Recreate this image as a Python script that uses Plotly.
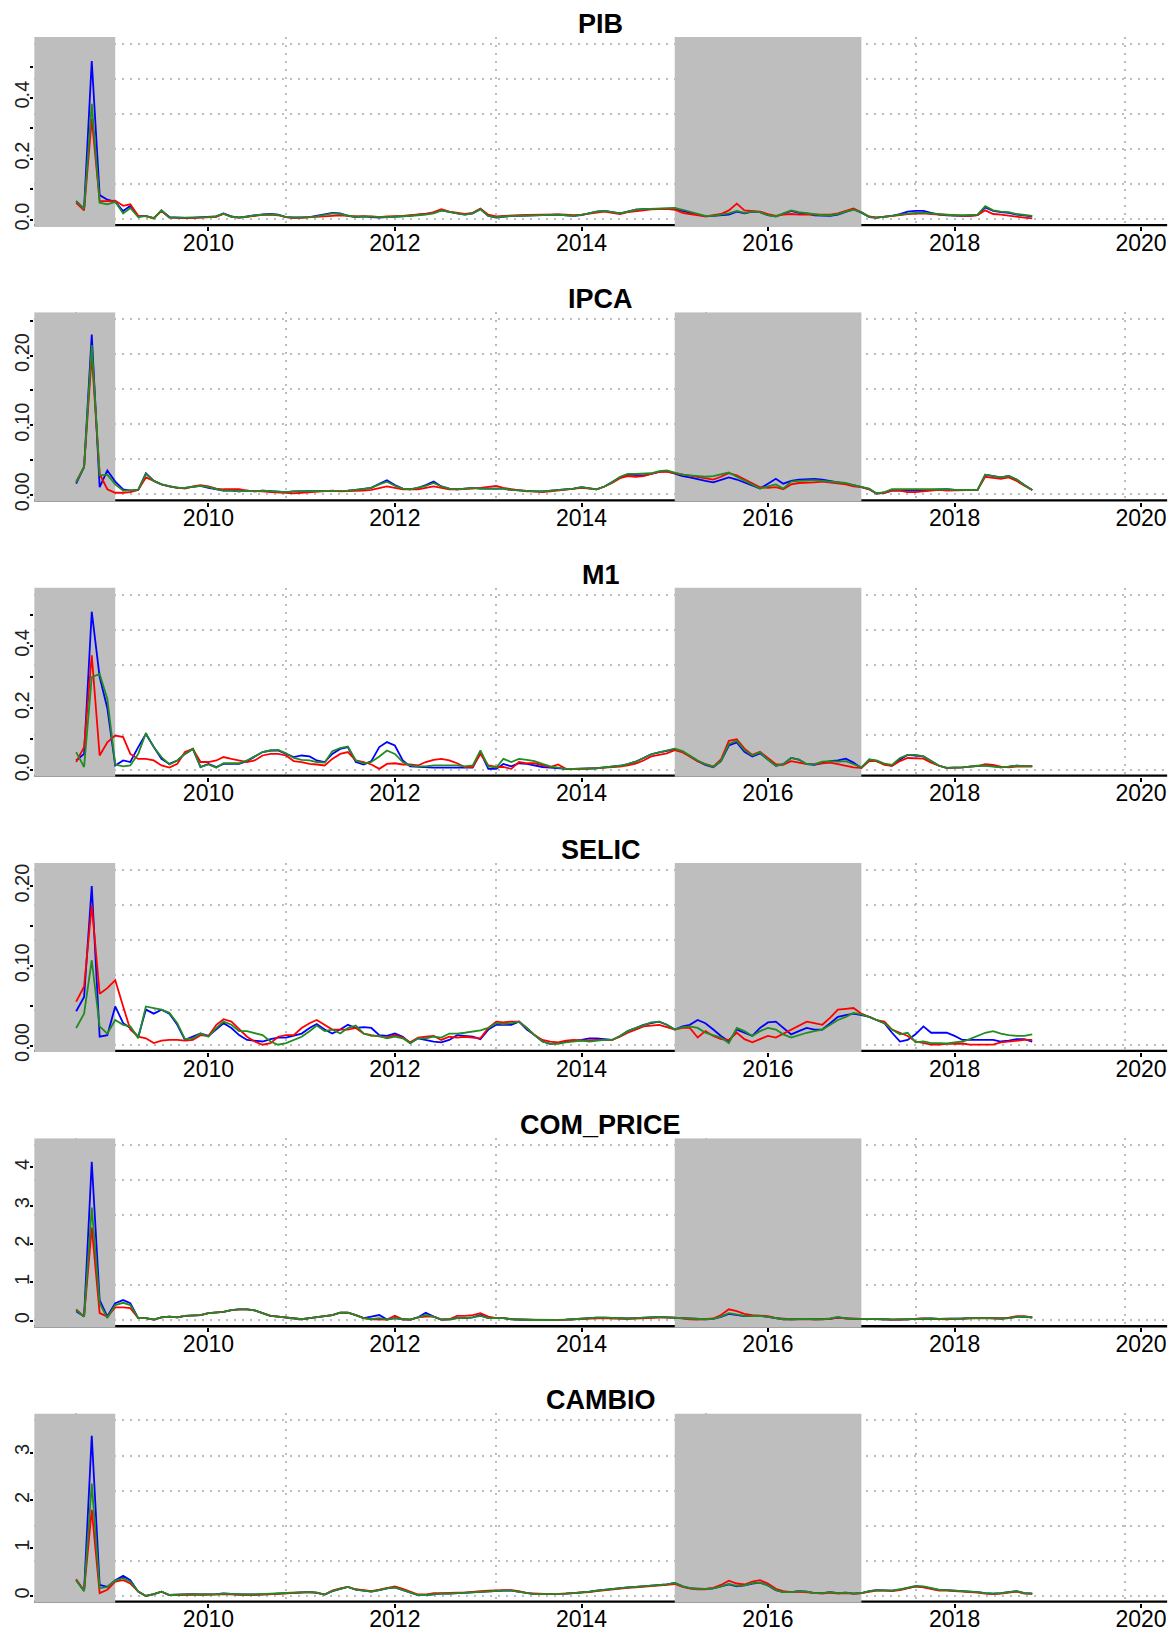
import plotly.graph_objects as go
import pandas as pd

# ---------------- data (monthly, Aug 2008 .. Nov 2018) ----------------
months = pd.date_range("2008-08-01", periods=124, freq="MS")
series_end_nominal = pd.Timestamp("2019-11-01")   # time index used for the axis scale

titles = ["PIB", "IPCA", "M1", "SELIC", "COM_PRICE", "CAMBIO"]

pib_blue = [.06, .035, .52, .08, .065, .058, .028, .045, .01, .012, .004, .03,
            .008, .006, .005, .006, .007, .008, .01, .02, .01, .006, .01, .014,
            .017, .018, .016, .008, .006, .006, .008, .012, .018, .022, .02, .012,
            .008, .01, .008, .006, .008, .009, .01, .012, .016, .018, .022, .03,
            .024, .02, .016, .02, .034, .012, .006, .01, .012, .012, .013, .014,
            .015, .015, .016, .014, .012, .014, .02, .026, .028, .024, .02, .026,
            .032, .034, .035, .035, .036, .036, .028, .022, .016, .01, .012, .014,
            .016, .026, .02, .026, .024, .014, .01, .018, .028, .022, .02, .014,
            .012, .012, .016, .026, .034, .022, .008, .006, .008, .012, .018, .026,
            .028, .028, .022, .016, .014, .012, .012, .012, .014, .04, .028, .024,
            .022, .016, .012, .01]
pib_red = [.055, .03, .33, .06, .06, .062, .045, .05, .012, .01, .005, .028,
           .006, .005, .004, .005, .006, .007, .009, .018, .009, .006, .008, .012,
           .015, .016, .014, .008, .005, .006, .007, .007, .01, .012, .014, .012,
           .01, .01, .01, .008, .01, .01, .012, .014, .016, .018, .024, .034,
           .026, .022, .018, .022, .036, .016, .01, .012, .014, .014, .015, .016,
           .016, .016, .017, .016, .014, .016, .02, .024, .026, .022, .018, .024,
           .028, .03, .033, .034, .035, .032, .022, .018, .014, .01, .014, .018,
           .03, .052, .03, .028, .026, .018, .012, .016, .018, .016, .016, .016,
           .016, .016, .02, .028, .036, .024, .01, .006, .008, .01, .014, .018,
           .02, .02, .018, .016, .014, .012, .012, .012, .014, .03, .018, .016,
           .012, .01, .006, .004]
pib_green = [.06, .035, .38, .055, .05, .058, .02, .038, .008, .012, .003, .03,
             .006, .006, .005, .006, .007, .008, .01, .02, .009, .007, .009, .014,
             .016, .017, .015, .008, .006, .006, .008, .01, .016, .02, .018, .012,
             .008, .01, .009, .007, .008, .009, .01, .012, .014, .016, .02, .03,
             .024, .02, .016, .02, .034, .012, .007, .01, .012, .012, .013, .014,
             .015, .015, .016, .014, .012, .015, .02, .026, .028, .024, .02, .026,
             .032, .034, .035, .035, .036, .038, .032, .026, .018, .012, .012, .016,
             .02, .028, .022, .026, .024, .014, .01, .02, .03, .024, .02, .016,
             .014, .014, .018, .026, .032, .024, .008, .006, .008, .012, .016, .02,
             .022, .022, .02, .016, .015, .014, .014, .014, .016, .044, .03, .026,
             .024, .018, .014, .012]

ipca_blue = [.016, .04, .23, .011, .035, .019, .008, .006, .007, .031, .02, .015,
             .012, .01, .01, .012, .013, .01, .008, .006, .006, .005, .006, .005,
             .006, .005, .004, .004, .005, .005, .006, .006, .005, .006, .005, .006,
             .007, .008, .01, .016, .021, .014, .009, .008, .01, .014, .019, .012,
             .009, .008, .009, .01, .009, .009, .01, .009, .007, .006, .005, .005,
             .005, .006, .006, .007, .009, .011, .009, .008, .012, .018, .025, .029,
             .028, .028, .03, .033, .034, .03, .027, .025, .022, .02, .018, .022,
             .025, .022, .018, .014, .009, .016, .023, .016, .02, .022, .023, .023,
             .022, .02, .018, .017, .014, .011, .008, .002, .003, .006, .006, .005,
             .005, .006, .007, .008, .008, .007, .007, .007, .007, .029, .027, .025,
             .027, .022, .014, .007]
ipca_red = [.019, .04, .2, .03, .008, .003, .003, .004, .007, .025, .02, .015,
            .012, .01, .009, .012, .014, .012, .009, .008, .008, .008, .006, .006,
            .005, .004, .003, .002, .002, .003, .004, .005, .005, .006, .005, .005,
            .006, .006, .007, .01, .012, .01, .008, .008, .008, .01, .012, .01,
            .008, .008, .008, .009, .01, .011, .013, .01, .008, .006, .005, .005,
            .004, .005, .006, .007, .008, .01, .009, .008, .012, .017, .024, .027,
            .026, .027, .03, .033, .033, .031, .029, .027, .026, .024, .022, .026,
            .031, .028, .022, .017, .011, .01, .011, .008, .015, .017, .017, .018,
            .019, .018, .017, .015, .012, .011, .008, .002, .003, .006, .006, .004,
            .004, .005, .006, .007, .006, .006, .007, .007, .007, .026, .024, .023,
            .025, .02, .013, .007]
ipca_green = [.018, .04, .215, .028, .029, .015, .006, .006, .007, .03, .02, .015,
              .012, .01, .01, .012, .013, .011, .008, .006, .006, .005, .006, .005,
              .006, .005, .004, .004, .005, .005, .006, .006, .005, .006, .005, .006,
              .007, .008, .01, .015, .019, .013, .009, .008, .01, .013, .017, .012,
              .009, .008, .009, .01, .009, .009, .01, .009, .007, .006, .005, .005,
              .005, .006, .006, .007, .009, .011, .009, .008, .012, .018, .026, .03,
              .03, .03, .031, .034, .035, .032, .029, .028, .027, .026, .027, .029,
              .032, .026, .02, .015, .009, .012, .015, .009, .019, .02, .021, .021,
              .02, .019, .018, .017, .014, .011, .009, .002, .004, .008, .008, .008,
              .008, .009, .009, .009, .008, .007, .007, .007, .007, .029, .027, .025,
              .027, .022, .014, .007]

m1_blue = [.032, .053, .51, .3, .2, .016, .032, .027, .075, .117, .075, .037,
           .021, .032, .053, .069, .011, .021, .011, .021, .021, .021, .03, .043,
           .059, .064, .064, .053, .043, .048, .045, .032, .027, .053, .069, .075,
           .027, .019, .03, .075, .091, .08, .032, .013, .011, .009, .009, .009,
           .009, .009, .009, .009, .059, .005, .005, .021, .013, .023, .021, .016,
           .011, .009, .006, .005, .005, .005, .006, .007, .01, .012, .015, .02,
           .028, .04, .052, .058, .062, .068, .06, .045, .03, .018, .01, .03,
           .08, .09, .06, .045, .055, .035, .015, .02, .04, .035, .02, .018,
           .025, .03, .032, .038, .025, .008, .035, .03, .02, .015, .035, .05,
           .048, .045, .03, .015, .008, .008, .01, .012, .015, .016, .014, .01,
           .012, .015, .014, .014]
m1_red = [.027, .075, .37, .048, .09, .112, .107, .053, .037, .037, .032, .016,
          .009, .021, .059, .069, .027, .027, .032, .043, .037, .032, .027, .032,
          .048, .053, .053, .048, .03, .027, .021, .019, .016, .037, .053, .059,
          .032, .027, .019, .005, .021, .023, .019, .019, .016, .027, .034, .037,
          .032, .023, .011, .011, .053, .016, .011, .011, .005, .027, .023, .023,
          .016, .011, .019, .005, .005, .004, .006, .007, .008, .01, .012, .016,
          .022, .032, .045, .05, .055, .065, .058, .045, .03, .02, .012, .035,
          .095, .1, .07, .05, .06, .04, .02, .018, .03, .025, .02, .02,
          .022, .025, .02, .015, .01, .008, .03, .03, .018, .015, .03, .04,
          .04, .038, .025, .015, .008, .008, .01, .012, .014, .02, .018, .012,
          .01, .012, .012, .012]
m1_green = [.059, .011, .3, .31, .23, .019, .013, .016, .053, .12, .075, .043,
            .019, .032, .053, .069, .011, .019, .009, .023, .023, .023, .032, .045,
            .059, .064, .066, .055, .04, .034, .032, .027, .025, .062, .072, .077,
            .032, .023, .027, .045, .064, .053, .027, .016, .013, .013, .016, .016,
            .016, .016, .013, .016, .064, .013, .009, .037, .027, .037, .034, .03,
            .021, .013, .009, .005, .005, .005, .006, .007, .01, .012, .015, .02,
            .028, .04, .052, .058, .063, .07, .062, .047, .032, .02, .012, .03,
            .085, .095, .065, .048, .058, .035, .015, .02, .04, .035, .02, .02,
            .028, .03, .028, .03, .02, .01, .035, .032, .022, .018, .04, .05,
            .05, .045, .03, .015, .008, .008, .01, .012, .015, .015, .013, .01,
            .012, .015, .014, .014]

selic_blue = [.043, .061, .2, .011, .013, .049, .028, .022, .011, .045, .04, .045,
              .04, .026, .007, .011, .015, .012, .02, .028, .022, .013, .007, .006,
              .005, .008, .01, .01, .012, .015, .022, .027, .02, .015, .02, .026,
              .022, .023, .022, .013, .012, .015, .011, .003, .009, .007, .005, .004,
              .007, .013, .012, .011, .008, .02, .026, .026, .026, .03, .02, .013,
              .005, .002, .003, .005, .006, .007, .009, .009, .008, .007, .012, .018,
              .022, .026, .028, .03, .026, .02, .024, .026, .032, .028, .02, .012,
              .005, .02, .016, .012, .022, .029, .03, .022, .014, .018, .022, .02,
              .02, .028, .036, .038, .04, .038, .036, .032, .028, .016, .005, .007,
              .014, .024, .016, .016, .016, .012, .007, .007, .0066, .007, .007, .005,
              .006, .008, .008, .005]
selic_red = [.055, .074, .176, .065, .072, .082, .049, .02, .011, .009, .003, .006,
             .007, .007, .006, .007, .013, .012, .026, .033, .03, .02, .011, .005,
             .001, .003, .011, .013, .013, .022, .028, .032, .026, .02, .02, .02,
             .022, .015, .013, .011, .01, .013, .01, .004, .01, .011, .012, .007,
             .011, .01, .011, .01, .009, .022, .03, .029, .03, .03, .022, .013,
             .007, .005, .004, .006, .007, .006, .007, .007, .007, .007, .011, .016,
             .02, .024, .025, .026, .023, .02, .022, .022, .01, .018, .012, .008,
             .007, .016, .008, .004, .008, .012, .01, .015, .02, .025, .03, .028,
             .026, .035, .045, .046, .047, .04, .036, .032, .03, .02, .016, .012,
             .005, .003, .001, .001, .002, .002, .0025, .001, .001, .001, .001, .004,
             .005, .006, .007, .007]
selic_green = [.022, .04, .107, .024, .015, .032, .026, .024, .009, .049, .047, .045,
               .041, .028, .008, .009, .015, .011, .022, .03, .026, .018, .018, .016,
               .013, .005, .001, .003, .007, .011, .018, .025, .018, .02, .015, .022,
               .025, .015, .012, .012, .009, .011, .009, .003, .009, .009, .011, .01,
               .015, .015, .016, .018, .019, .022, .028, .027, .028, .03, .022, .013,
               .005, .002, .002, .004, .005, .006, .005, .006, .007, .007, .012, .018,
               .022, .026, .029, .03, .026, .02, .023, .024, .022, .016, .013, .01,
               .003, .022, .018, .012, .018, .022, .02, .014, .01, .013, .016, .018,
               .02, .026, .032, .036, .041, .039, .036, .032, .028, .02, .014, .016,
               .004, .005, .003, .003, .0025, .004, .005, .008, .012, .016, .018, .015,
               .013, .012, .012, .014]

com_blue = [.25, .11, 4.15, .54, .11, .46, .54, .46, .07, .07, .03, .09,
            .11, .09, .13, .15, .15, .2, .21, .23, .28, .3, .3, .27,
            .2, .13, .11, .09, .07, .04, .07, .09, .13, .15, .21, .21,
            .15, .07, .11, .15, .03, .07, .04, .03, .09, .21, .11, .03,
            .04, .07, .07, .09, .15, .07, .07, .07, .04, .03, .02, .02,
            .02, .02, .025, .03, .04, .06, .07, .08, .08, .07, .06, .06,
            .07, .08, .09, .1, .09, .08, .06, .05, .04, .04, .05, .1,
            .18, .15, .12, .12, .13, .1, .06, .04, .04, .05, .05, .04,
            .04, .05, .08, .06, .05, .05, .05, .05, .04, .03, .03, .04,
            .05, .06, .06, .05, .05, .05, .06, .07, .07, .08, .07, .06,
            .07, .1, .1, .08]
com_red = [.3, .11, 2.43, .2, .11, .35, .35, .33, .07, .07, .03, .09,
           .11, .09, .13, .15, .15, .2, .21, .23, .28, .3, .3, .27,
           .2, .13, .11, .09, .07, .04, .07, .09, .13, .15, .21, .21,
           .15, .07, .04, .03, .03, .13, .04, .03, .09, .11, .11, .03,
           .04, .13, .13, .15, .2, .11, .07, .07, .04, .03, .03, .025,
           .02, .02, .025, .03, .04, .05, .06, .07, .07, .06, .05, .05,
           .06, .07, .08, .09, .09, .08, .05, .04, .03, .04, .06, .15,
           .3, .25, .18, .15, .14, .12, .07, .05, .04, .04, .04, .03,
           .04, .05, .09, .06, .05, .05, .05, .04, .03, .03, .03, .04,
           .05, .06, .05, .04, .04, .05, .06, .06, .06, .07, .06, .06,
           .08, .12, .12, .09]
com_green = [.28, .11, 2.95, .46, .07, .41, .47, .41, .07, .07, .03, .09,
             .11, .09, .13, .15, .15, .2, .21, .23, .28, .3, .3, .27,
             .2, .13, .11, .09, .07, .04, .07, .09, .13, .15, .21, .21,
             .15, .07, .04, .07, .03, .07, .04, .03, .09, .15, .11, .03,
             .04, .07, .07, .09, .13, .07, .07, .07, .04, .03, .02, .02,
             .02, .02, .025, .03, .04, .06, .07, .08, .08, .07, .06, .06,
             .07, .08, .09, .1, .09, .08, .06, .05, .04, .04, .05, .11,
             .2, .17, .13, .12, .13, .1, .06, .04, .04, .05, .05, .04,
             .04, .06, .1, .06, .05, .05, .05, .05, .04, .03, .03, .04,
             .05, .06, .06, .05, .05, .05, .06, .07, .07, .08, .07, .06,
             .07, .1, .11, .09]

cambio_blue = [.33, .11, 3.35, .23, .19, .33, .42, .33, .09, .0, .04, .09,
               .02, .03, .03, .04, .03, .03, .04, .055, .04, .03, .03, .03,
               .04, .04, .05, .06, .07, .08, .08, .07, .03, .1, .15, .19,
               .13, .11, .09, .12, .16, .18, .13, .08, .02, .02, .04, .05,
               .05, .06, .06, .08, .09, .1, .1, .11, .11, .09, .055, .04,
               .04, .04, .045, .05, .06, .07, .09, .11, .13, .15, .17, .18,
               .19, .2, .21, .22, .24, .27, .2, .16, .15, .15, .16, .2,
               .24, .2, .22, .26, .28, .22, .12, .08, .08, .1, .09, .06,
               .06, .08, .06, .07, .05, .06, .1, .12, .12, .11, .13, .17,
               .2, .19, .15, .12, .12, .11, .1, .1, .08, .06, .05, .06,
               .08, .1, .06, .05]
cambio_red = [.35, .11, 1.8, .06, .13, .3, .33, .26, .09, .0, .04, .09,
              .02, .02, .02, .03, .02, .02, .03, .04, .03, .02, .02, .02,
              .03, .035, .04, .05, .06, .07, .08, .065, .03, .11, .16, .19,
              .14, .12, .1, .13, .17, .2, .15, .09, .03, .03, .06, .06,
              .07, .07, .07, .09, .1, .11, .12, .12, .12, .1, .06, .05,
              .045, .04, .045, .05, .06, .07, .08, .1, .12, .14, .16, .17,
              .18, .19, .2, .21, .23, .25, .19, .16, .14, .14, .17, .23,
              .32, .26, .24, .3, .33, .26, .15, .1, .08, .09, .08, .06,
              .05, .07, .05, .06, .05, .06, .09, .11, .11, .1, .12, .16,
              .2, .18, .14, .11, .11, .1, .09, .09, .07, .05, .04, .05,
              .07, .09, .05, .05]
cambio_green = [.33, .1, 2.35, .16, .19, .32, .37, .3, .09, .0, .04, .09,
                .02, .03, .03, .04, .03, .03, .04, .05, .04, .03, .03, .03,
                .04, .04, .05, .06, .07, .08, .08, .07, .03, .1, .15, .19,
                .13, .11, .09, .12, .16, .18, .13, .08, .02, .02, .04, .05,
                .05, .06, .06, .08, .09, .1, .1, .11, .11, .09, .055, .04,
                .04, .04, .045, .05, .06, .07, .09, .11, .13, .15, .17, .18,
                .19, .2, .21, .22, .24, .27, .2, .17, .15, .15, .16, .2,
                .25, .21, .22, .27, .28, .22, .12, .08, .08, .1, .09, .06,
                .06, .08, .06, .07, .05, .06, .1, .12, .12, .11, .14, .18,
                .21, .2, .16, .13, .12, .11, .1, .1, .08, .06, .05, .06,
                .08, .1, .06, .05]

blue_series = [pib_blue, ipca_blue, m1_blue, selic_blue, com_blue, cambio_blue]
red_series = [pib_red, ipca_red, m1_red, selic_red, com_red, cambio_red]
green_series = [pib_green, ipca_green, m1_green, selic_green, com_green, cambio_green]

# value span used by each panel's scale (grid runs from min to max)
data_min = [0.001, 0.0005, 0.002, 0.0005, 0.01, 0.005]
data_max = [0.576, 0.252, 0.565, 0.2204, 4.58, 3.67]

y_tickvals = [[0, .1, .2, .3, .4, .5], [0, .05, .1, .15, .2, .25], [0, .1, .2, .3, .4, .5],
              [0, .05, .1, .15, .2], [0, 1, 2, 3, 4], [0, 1, 2, 3]]
y_ticktext = [["0.0", "", "0.2", "", "0.4", ""], ["0.00", "", "0.10", "", "0.20", ""],
              ["0.0", "", "0.2", "", "0.4", ""], ["0.00", "", "0.10", "", "0.20"],
              ["0", "1", "2", "3", "4"], ["0", "1", "2", "3"]]

x_tick_years = [2010, 2012, 2014, 2016, 2018, 2020]

recessions = [("2008-01-01", "2009-01-01"), ("2015-01-01", "2017-01-01")]

# ---------------- styling / layout ----------------
W, H = 1176, 1632
FONT = "Liberation Sans, Arial, Helvetica, sans-serif"
COLORS = ["#0000FF", "#FF0000", "#228B22"]
GRID = dict(showgrid=True, griddash="2px,6px", gridcolor="#bdbdbd", gridwidth=1.5,
            ticks="", tickmode="array")

plot_left, plot_right = 34.2, 1167.4
panel_top0, panel_step, panel_h = 37.2, 277.0, 190.4

span = series_end_nominal - months[0]
x_lo = months[0] - 0.04 * span
x_hi = series_end_nominal + 0.04 * span
x_grid = [months[0] + span * (k / 5) for k in range(6)]

fig = go.Figure()
shapes, annotations = [], []

for i, title in enumerate(titles):
    n = i + 1
    sfx = "" if n == 1 else str(n)
    xa, ya = "x" + sfx, "y" + sfx
    for vals, col in zip([blue_series[i], red_series[i], green_series[i]], COLORS):
        assert len(vals) == len(months)
        fig.add_trace(go.Scatter(x=months, y=vals, mode="lines", xaxis=xa, yaxis=ya,
                                 line=dict(color=col, width=1.8), showlegend=False,
                                 hoverinfo="skip"))
    top = panel_top0 + panel_step * i
    bot = top + panel_h
    d = data_max[i] - data_min[i]
    y_lo, y_hi = data_min[i] - 0.04 * d, data_max[i] + 0.04 * d
    y_grid = [data_min[i] + d * k / 5 for k in range(6)]

    fig.layout["xaxis" + sfx] = dict(
        domain=[plot_left / W, plot_right / W], anchor=ya, type="date",
        range=[x_lo, x_hi], showgrid=False, zeroline=False, showline=False,
        tickmode="array", tickvals=[pd.Timestamp(f"{y}-01-01") for y in x_tick_years],
        ticktext=[str(y) for y in x_tick_years],
        ticks="outside", ticklen=4, tickwidth=1.5, tickcolor="black",
        ticklabelstandoff=-8,
        tickfont=dict(family=FONT, size=23, color="black"),
        minor=dict(tickvals=x_grid, **GRID), fixedrange=True)
    fig.layout["yaxis" + sfx] = dict(
        domain=[1 - bot / H, 1 - top / H], anchor=xa, range=[y_lo, y_hi],
        showgrid=False, zeroline=False, showline=False,
        tickmode="array", tickvals=y_tickvals[i], ticktext=y_ticktext[i],
        tickangle=-90, ticks="outside", ticklen=3, tickwidth=1.5, tickcolor="black",
        ticklabelstandoff=-7,
        tickfont=dict(family=FONT, size=20, color="#222222"),
        minor=dict(tickvals=y_grid, **GRID), fixedrange=True)

    # bottom axis line (half of its width is clipped by the plot area)
    shapes.append(dict(type="line", xref=xa, yref=ya,
                       x0=x_lo, x1=x_hi, y0=y_lo, y1=y_lo, layer="between",
                       line=dict(color="black", width=4.6)))
    # shaded periods
    for r0, r1 in recessions:
        shapes.append(dict(type="rect", xref=xa, yref=ya,
                           x0=max(pd.Timestamp(r0), x_lo), x1=pd.Timestamp(r1),
                           y0=y_lo - 0.02 * (y_hi - y_lo), y1=y_hi,
                           fillcolor="#BEBEBE", line=dict(width=0), layer="between"))
    annotations.append(dict(text=title, xref=xa + " domain", yref=ya + " domain",
                            x=0.5, y=1, xanchor="center", yanchor="bottom", yshift=-4,
                            showarrow=False,
                            font=dict(family=FONT, size=27, color="black", weight="bold")))

fig.update_layout(width=W, height=H, autosize=False,
                  margin=dict(l=0, r=0, t=0, b=0),
                  paper_bgcolor="white", plot_bgcolor="white",
                  shapes=shapes, annotations=annotations, showlegend=False,
                  font=dict(family=FONT))

fig.write_html("out.html")
